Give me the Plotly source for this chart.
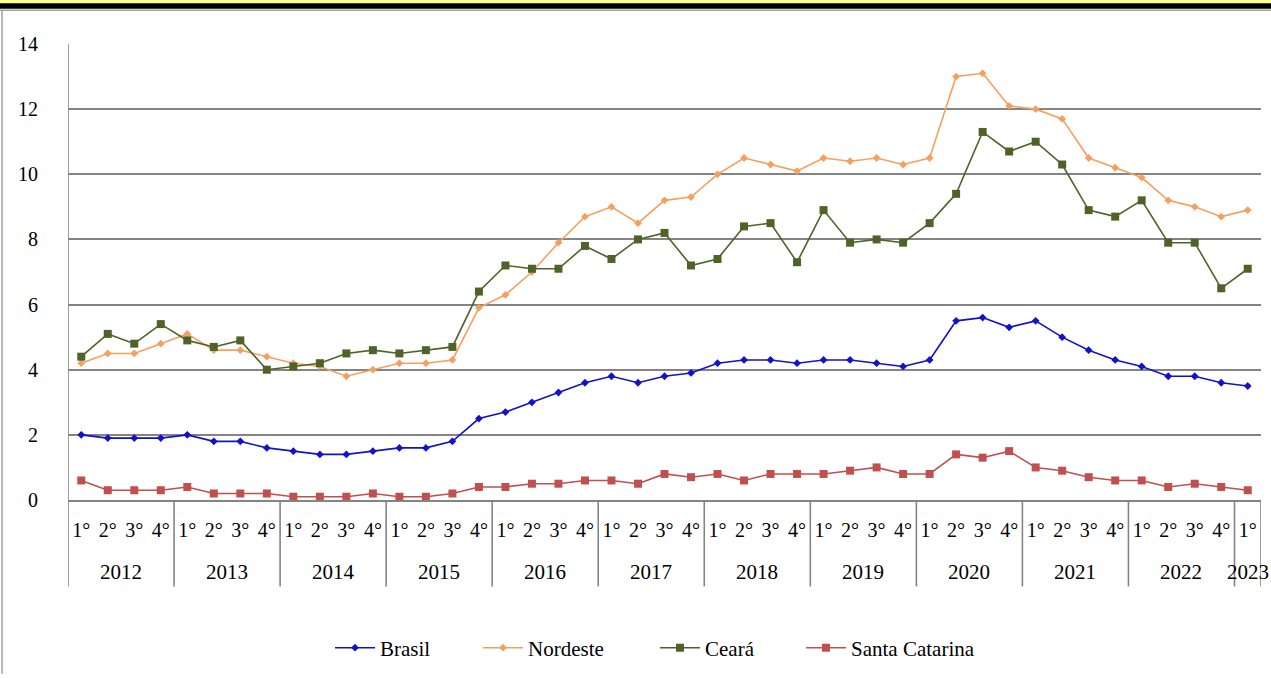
import plotly.graph_objects as go

years = ["2012", "2013", "2014", "2015", "2016", "2017", "2018", "2019", "2020", "2021", "2022", "2023"]
quarter_names = ["1°", "2°", "3°", "4°"]
n_quarters_per_year = [4, 4, 4, 4, 4, 4, 4, 4, 4, 4, 4, 1]

brasil = [2.0, 1.9, 1.9, 1.9, 2.0, 1.8, 1.8, 1.6, 1.5, 1.4, 1.4, 1.5, 1.6, 1.6, 1.8, 2.5,
          2.7, 3.0, 3.3, 3.6, 3.8, 3.6, 3.8, 3.9, 4.2, 4.3, 4.3, 4.2, 4.3, 4.3, 4.2, 4.1,
          4.3, 5.5, 5.6, 5.3, 5.5, 5.0, 4.6, 4.3, 4.1, 3.8, 3.8, 3.6, 3.5]
nordeste = [4.2, 4.5, 4.5, 4.8, 5.1, 4.6, 4.6, 4.4, 4.2, 4.1, 3.8, 4.0, 4.2, 4.2, 4.3, 5.9,
            6.3, 7.0, 7.9, 8.7, 9.0, 8.5, 9.2, 9.3, 10.0, 10.5, 10.3, 10.1, 10.5, 10.4, 10.5, 10.3,
            10.5, 13.0, 13.1, 12.1, 12.0, 11.7, 10.5, 10.2, 9.9, 9.2, 9.0, 8.7, 8.9]
ceara = [4.4, 5.1, 4.8, 5.4, 4.9, 4.7, 4.9, 4.0, 4.1, 4.2, 4.5, 4.6, 4.5, 4.6, 4.7, 6.4,
         7.2, 7.1, 7.1, 7.8, 7.4, 8.0, 8.2, 7.2, 7.4, 8.4, 8.5, 7.3, 8.9, 7.9, 8.0, 7.9,
         8.5, 9.4, 11.3, 10.7, 11.0, 10.3, 8.9, 8.7, 9.2, 7.9, 7.9, 6.5, 7.1]
santa_catarina = [0.6, 0.3, 0.3, 0.3, 0.4, 0.2, 0.2, 0.2, 0.1, 0.1, 0.1, 0.2, 0.1, 0.1, 0.2, 0.4,
                  0.4, 0.5, 0.5, 0.6, 0.6, 0.5, 0.8, 0.7, 0.8, 0.6, 0.8, 0.8, 0.8, 0.9, 1.0, 0.8,
                  0.8, 1.4, 1.3, 1.5, 1.0, 0.9, 0.7, 0.6, 0.6, 0.4, 0.5, 0.4, 0.3]
y_ticks = [0, 2, 4, 6, 8, 10, 12, 14]

qlabels = []
for n in n_quarters_per_year:
    qlabels += quarter_names[:n]
xpos = list(range(len(qlabels)))

FONT = "Liberation Serif, Times New Roman, serif"
GRID = "#848484"
TXT = "#000000"

def px_y(p):
    return (503 - p) / 459

def px_x(p):
    return (p - 68) / 1193

fig = go.Figure()
series = [
    ("Brasil", brasil, "#1212C8", "diamond", 6, "legend", 330),
    ("Nordeste", nordeste, "#F5A060", "diamond", 6, "legend2", 478),
    ("Ceará", ceara, "#4F6228", "square", 8, "legend3", 655),
    ("Santa Catarina", santa_catarina, "#C0504D", "square", 8, "legend4", 801),
]
legends = {}
for name, vals, col, sym, sz, leg, lx in series:
    fig.add_trace(go.Scatter(
        x=xpos, y=vals, name=name, mode="lines+markers",
        line=dict(color=col, width=1.6),
        marker=dict(color=col, symbol=sym, size=sz, line=dict(width=0)),
        legend=leg,
    ))
    legends[leg] = dict(orientation="h", x=px_x(lx), xanchor="left", y=px_y(652), yanchor="middle",
                        font=dict(family=FONT, size=21, color=TXT), itemwidth=40,
                        bgcolor="rgba(0,0,0,0)", borderwidth=0)

shapes = []
annotations = []
start = 0
bottom = px_y(590)
for i, (yr, n) in enumerate(zip(years, n_quarters_per_year)):
    x0 = start - 0.5
    shapes.append(dict(type="line", xref="x", yref="paper", x0=x0, x1=x0,
                       y0=(1 if i == 0 else 0), y1=bottom,
                       line=dict(color=GRID, width=1.6)))
    annotations.append(dict(x=start + (n - 1) / 2, y=px_y(575), xref="x", yref="paper",
                            text=yr, showarrow=False, yanchor="middle",
                            font=dict(family=FONT, size=21, color=TXT)))
    start += n
shapes.append(dict(type="line", xref="x", yref="paper", x0=start - 0.5, x1=start - 0.5,
                   y0=0, y1=bottom, line=dict(color=GRID, width=1.6)))

shapes += [
    dict(type="rect", xref="paper", yref="paper", x0=px_x(0), x1=px_x(1271), y0=px_y(3), y1=px_y(0),
         fillcolor="#FFFF80", line=dict(width=0), layer="below"),
    dict(type="rect", xref="paper", yref="paper", x0=px_x(0), x1=px_x(1271), y0=px_y(8.5), y1=px_y(3),
         fillcolor="#000000", line=dict(width=0), layer="below"),
    dict(type="line", xref="paper", yref="paper", x0=px_x(0), x1=px_x(1271), y0=px_y(10), y1=px_y(10),
         line=dict(color="#A0A0A0", width=1.5)),
    dict(type="line", xref="paper", yref="paper", x0=px_x(2), x1=px_x(2), y0=px_y(10), y1=px_y(678),
         line=dict(color="#A0A0A0", width=1.5)),
]

fig.update_layout(
    width=1271, height=678,
    margin=dict(l=68, r=10, t=44, b=175),
    paper_bgcolor="white", plot_bgcolor="white",
    font=dict(family=FONT, color=TXT),
    showlegend=True,
    shapes=shapes, annotations=annotations,
    xaxis=dict(range=[-0.5, len(xpos) - 0.5], tickmode="array", tickvals=xpos, ticktext=qlabels,
               showgrid=False, zeroline=False, showline=True, linecolor=GRID, linewidth=1.8,
               ticks="outside", ticklen=11, tickcolor="rgba(0,0,0,0)",
               tickfont=dict(family=FONT, size=20, color=TXT)),
    yaxis=dict(range=[0, 14], tickmode="array", tickvals=y_ticks,
               showgrid=True, gridcolor=GRID, gridwidth=1.8, zeroline=False,
               showline=False,
               ticks="outside", ticklen=25, tickcolor="rgba(0,0,0,0)",
               tickfont=dict(family=FONT, size=20, color=TXT)),
    **legends,
)

fig.write_html("out.html")
